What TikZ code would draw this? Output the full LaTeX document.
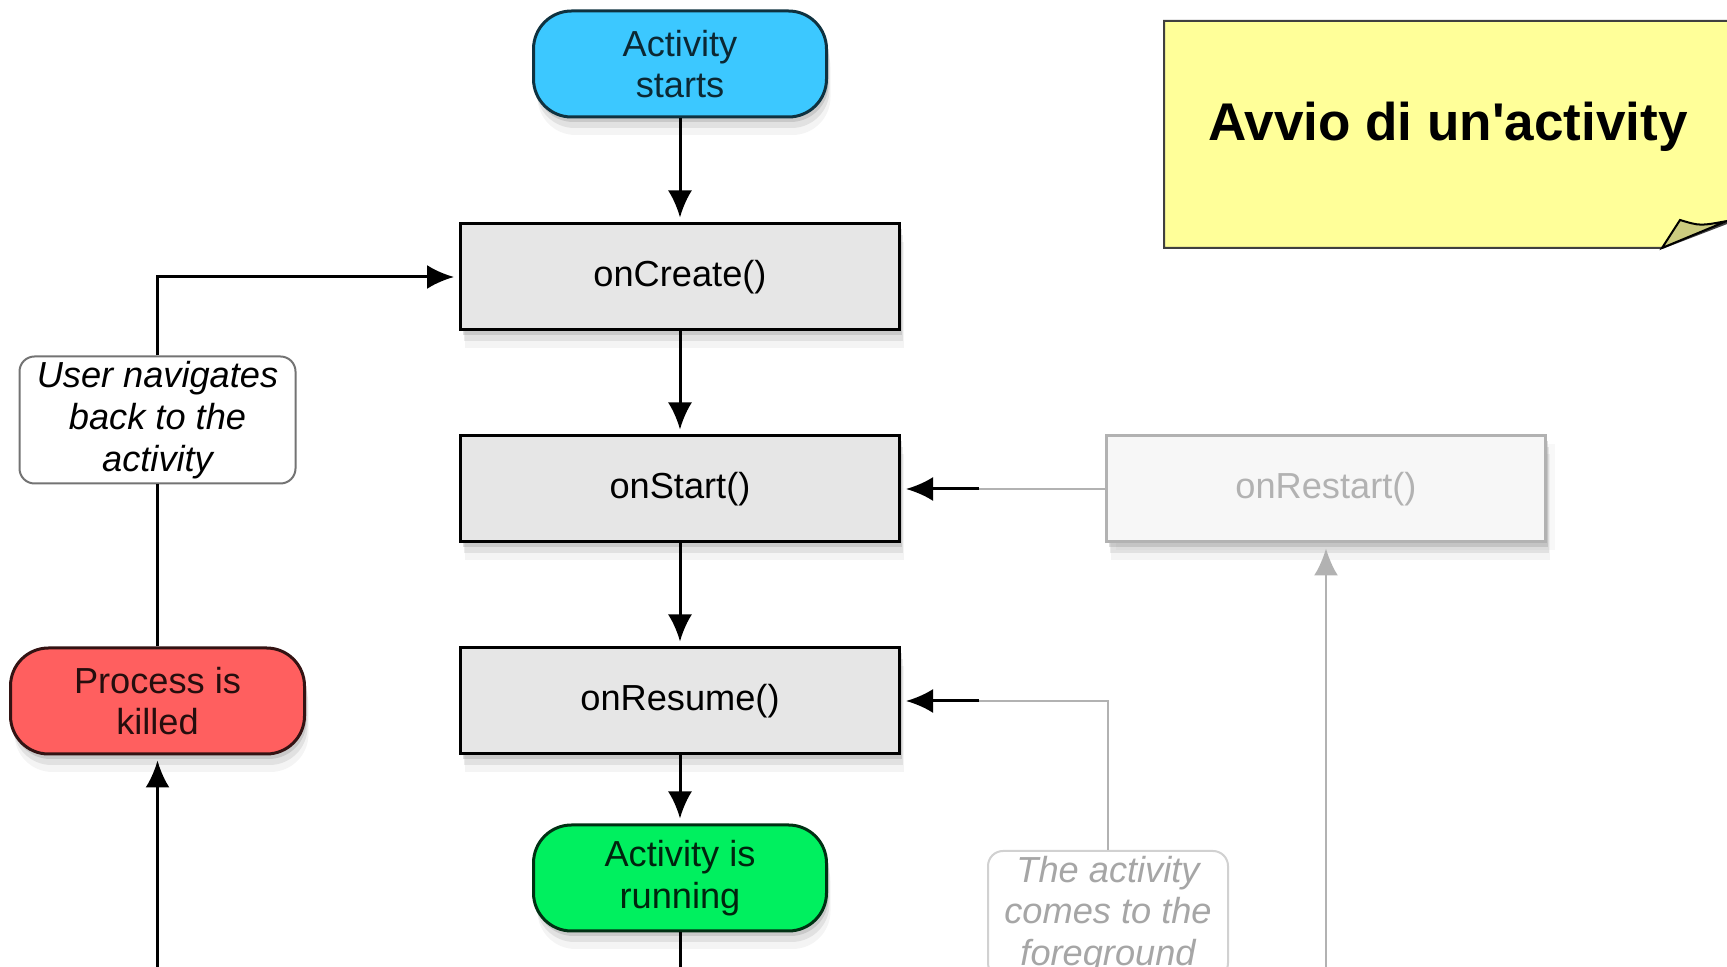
\documentclass[tikz,border=0pt]{standalone}
\usepackage{fontspec}
\setmainfont{Liberation Sans}
\usepackage{xcolor}
\usepackage{tikz}
\usetikzlibrary{arrows.meta, positioning, shadows}
\definecolor{startblue}{RGB}{60,200,255}
\definecolor{runninggreen}{RGB}{0,240,95}
\definecolor{killedred}{RGB}{255,95,95}
\definecolor{boxgrey}{RGB}{230,230,230}
\definecolor{fadedgrey}{RGB}{178,178,178}
\definecolor{notefill}{RGB}{255,255,153}
\definecolor{foldfill}{RGB}{204,204,127}
\tikzstyle{softshadow} = [drop shadow={shadow xshift=0.2mm, shadow yshift=-0.5mm, opacity=0.25}, drop shadow={shadow xshift=0.3mm, shadow yshift=-1.1mm, opacity=0.16}, drop shadow={shadow xshift=0.4mm, shadow yshift=-1.8mm, opacity=0.09}]
\tikzstyle{base} = [draw, line width=0.3mm, align=center, inner sep=1pt, font=\fontsize{10.3}{11.9}\selectfont]
\tikzstyle{terminal} = [base, rectangle, rounded corners=3.8mm, minimum width=29.3mm, minimum height=10.6mm, softshadow]
\tikzstyle{callback} = [base, rectangle, fill=boxgrey, minimum width=43.9mm, minimum height=10.6mm, softshadow]
\tikzstyle{greycallback} = [callback, draw=fadedgrey, fill=black!3, text=fadedgrey, drop shadow={shadow yshift=-0.8mm, opacity=0.06}]
\tikzstyle{event} = [base, rectangle, rounded corners=1.5mm, fill=white, draw=black!55, line width=0.2mm, font=\itshape\fontsize{10.3}{11.9}\selectfont, minimum width=27.6mm, minimum height=12.7mm]
\tikzstyle{greyevent} = [event, draw=black!18, text=black!35, minimum width=24mm]
\tikzstyle{arrow} = [draw, line width=0.3mm, -{Latex[length=2.7mm,width=2.4mm]}, shorten >=0.5mm]
\tikzstyle{greyline} = [draw, line width=0.25mm, fadedgrey]
\tikzstyle{greyarrow} = [greyline, -{Latex[length=2.7mm,width=2.4mm]}, shorten >=0.5mm]

\begin{document}
\begin{tikzpicture}[x=0.1mm, y=-0.1mm]
    \useasboundingbox (0,0) rectangle (1727,967);
    \clip (0,0) rectangle (1727,967);

    % Main path
    \node (start) [terminal, fill=startblue, draw=startblue!25!black, text=startblue!20!black] at (680,64) {Activity\\starts};
    \node (create) [callback, below=10.4mm of start] {onCreate()};
    \node (onstart) [callback, below=10.3mm of create] {onStart()};
    \node (resume) [callback, below=10.3mm of onstart] {onResume()};
    \node (running) [terminal, fill=runninggreen, draw=runninggreen!20!black, text=runninggreen!15!black, below=6.8mm of resume] {Activity is\\running};

    % Side nodes
    \node (restart) [greycallback, right=20.4mm of onstart] {onRestart()};
    \node (killed) [terminal, fill=killedred, draw=killedred!20!black, text=killedred!15!black, minimum width=29.4mm, left=15.3mm of resume] {Process is\\killed};
    \node (usernav) [event, above=16.2mm of killed] {User navigates\\back to the\\activity};
    \node (fgnd) [greyevent, anchor=north] at (1108,850) {The activity\\comes to the\\foreground};

    % Note
    \draw [fill=notefill, draw=black!75, line width=0.2mm] (1164,21) -- (1740,21) -- (1740,218) -- (1662,248) -- (1164,248) -- cycle;
    \draw [fill=foldfill, draw=black, line width=0.2mm] (1662,248) -- (1680,220) .. controls (1700,226) .. (1727,221) -- cycle;
    \node (title) [font=\bfseries\fontsize{15.1}{18}\selectfont, anchor=base] at (1448,141) {Avvio di un\textquotesingle activity};

    % Free ends
    \coordinate (runout) at (running.south |- 0,1000);
    \coordinate (killin) at (killed.south |- 0,1000);
    \coordinate (restartin) at (restart.south |- 0,1000);
    \coordinate [right=7.8mm of onstart.east] (restartjoin);
    \coordinate [right=7.8mm of resume.east] (resumejoin);

    \draw [arrow] (start) -- (create);
    \draw [arrow] (create) -- (onstart);
    \draw [arrow] (onstart) -- (resume);
    \draw [arrow] (resume) -- (running);
    \draw [line width=0.3mm] (running) -- (runout);

    \draw [arrow] (killin) -- (killed);
    \draw [line width=0.3mm] (killed) -- (usernav);
    \draw [arrow] (usernav.north) |- (create.west);

    \draw [greyline] (restart.west) -- (restartjoin);
    \draw [arrow] (restartjoin) -- (onstart.east);
    \draw [greyline] (fgnd.north) |- (resumejoin);
    \draw [arrow] (resumejoin) -- (resume.east);
    \draw [greyarrow] (restartin) -- (restart.south);
\end{tikzpicture}
\end{document}
